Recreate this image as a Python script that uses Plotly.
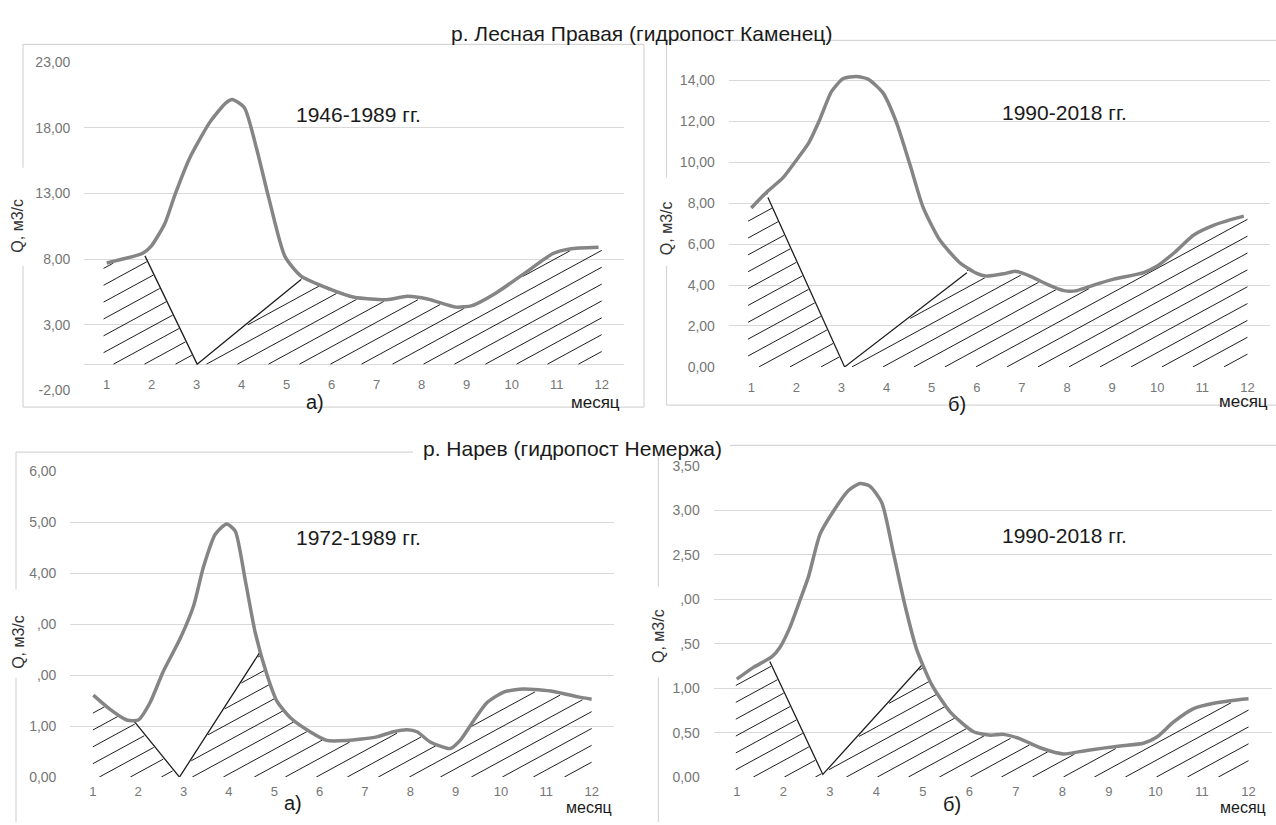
import numpy as np
import plotly.graph_objects as go

W, H = 1276, 825

# ---------------- data ----------------
months = list(range(1, 13))
month_labels = [str(m) for m in months]

# р. Лесная Правая, 1946-1989
tl_month = [1.00, 1.80, 1.98, 2.29, 2.52, 2.84, 3.29, 3.65, 3.79, 4.06, 4.33, 4.60, 4.96,
            5.32, 5.96, 6.50, 7.22, 7.68, 8.13, 8.76, 9.12, 9.67, 10.30, 10.93, 11.29, 11.93]
tl_q = [7.70, 8.44, 8.94, 10.68, 12.92, 15.66, 18.40, 19.89, 20.14, 19.52, 16.41, 12.67, 8.20,
        6.70, 5.71, 5.09, 4.91, 5.16, 4.96, 4.34, 4.46, 5.46, 6.95, 8.44, 8.77, 8.89]
tl_v_month = [1.85, 3.01, 5.32]
tl_v_q = [8.24, 0.0, 6.45]
tl_yticks = [-2, 3, 8, 13, 18, 23]
tl_yticktext = ["-2,00", "3,00", "8,00", "13,00", "18,00", "23,00"]

# р. Лесная Правая, 1990-2018
tr_month = [1.00, 1.33, 1.70, 1.95, 2.26, 2.52, 2.78, 3.04, 3.33, 3.59, 3.92, 4.22, 4.52, 4.81,
            5.18, 5.63, 6.00, 6.20, 6.59, 6.85, 7.18, 7.56, 7.93, 8.22, 8.59, 9.04, 9.70,
            10.00, 10.37, 10.81, 11.26, 11.63, 11.92]
tr_q = [7.77, 8.52, 9.24, 9.96, 10.90, 12.10, 13.47, 14.10, 14.20, 14.07, 13.40, 11.95, 9.88, 7.80,
        6.20, 5.08, 4.57, 4.44, 4.55, 4.68, 4.44, 4.04, 3.73, 3.73, 4.00, 4.29, 4.61,
        4.93, 5.57, 6.45, 6.93, 7.20, 7.37]
tr_v_month = [1.37, 3.07, 5.78]
tr_v_q = [8.28, 0.0, 4.60]
tr_yticks = [0, 2, 4, 6, 8, 10, 12, 14]
tr_yticktext = ["0,00", "2,00", "4,00", "6,00", "8,00", "10,00", "12,00", "14,00"]

# р. Нарев, 1972-1989
bl_month = [1.01, 1.38, 1.75, 2.00, 2.26, 2.55, 2.92, 3.22, 3.44, 3.70, 3.95, 4.14, 4.36, 4.58,
            4.84, 5.06, 5.35, 5.79, 6.16, 6.60, 7.26, 7.63, 7.93, 8.15, 8.44, 8.88, 9.10,
            9.40, 9.69, 10.06, 10.50, 11.16, 11.72, 12.00]
bl_q = [1.61, 1.33, 1.12, 1.12, 1.46, 2.07, 2.71, 3.36, 4.13, 4.77, 4.97, 4.83, 3.87, 2.84,
        2.01, 1.49, 1.17, 0.89, 0.72, 0.72, 0.79, 0.89, 0.93, 0.89, 0.69, 0.56, 0.72,
        1.11, 1.46, 1.67, 1.73, 1.68, 1.57, 1.53]
bl_v_month = [1.89, 2.91, 4.69]
bl_v_q = [1.12, 0.0, 2.46]
bl_yticks = [0, 1, 2, 3, 4, 5, 6]
bl_yticktext = ["0,00", "1,00", ",00", ",00", "4,00", "5,00", "6,00"]

# р. Нарев, 1990-2018
br_month = [1.00, 1.35, 1.75, 1.93, 2.14, 2.36, 2.54, 2.79, 3.08, 3.40, 3.65, 3.86, 4.12, 4.37,
            4.62, 4.87, 5.19, 5.59, 6.09, 6.45, 6.73, 7.09, 7.52, 8.02, 8.52, 9.24, 9.74,
            10.03, 10.39, 10.82, 11.25, 11.79, 12.00]
br_q = [1.10, 1.23, 1.35, 1.46, 1.68, 1.99, 2.25, 2.73, 2.99, 3.22, 3.30, 3.27, 3.08, 2.51,
        1.92, 1.43, 1.04, 0.73, 0.51, 0.47, 0.48, 0.43, 0.33, 0.26, 0.30, 0.35, 0.38,
        0.45, 0.62, 0.77, 0.83, 0.87, 0.88]
br_v_month = [1.71, 2.85, 4.98]
br_v_q = [1.30, 0.03, 1.26]
br_yticks = [0, 0.5, 1.0, 1.5, 2.0, 2.5, 3.0, 3.5]
br_yticktext = ["0,00", "0,50", "1,00", ",50", ",00", "2,50", "3,00", "3,50"]

# ---------------- geometry / style ----------------
FONT = "Liberation Sans, Arial, sans-serif"
GRID = "#d9d9d9"
CURVE = "#858585"
TICKC = "#767676"
HATCH_ANGLE = np.tan(np.radians(29))
HATCH_STEP = 31.0  # px along the baseline


def X(px):
    return px / W


def Y(py):
    return 1 - py / H


# plot-area boxes in pixels: x0, x1, py at ymin, py at ymax (range top), ymin, ymax
panels = {
    "tl": dict(x0=84.2, x1=624.2, pyb=390.0, pyt=55.0, ymin=-2, ymax=23, phase=1.15, xs=0.93),
    "tr": dict(x0=728.7, x1=1270.0, pyb=366.0, pyt=61.5, ymin=0, ymax=14.6, phase=3.92, xs=0.93),
    "bl": dict(x0=70.2, x1=614.3, pyb=784.3, pyt=472.7, ymin=0, ymax=6, phase=1.14, xs=1.0),
    "br": dict(x0=713.5, x1=1271.8, pyb=784.3, pyt=466.7, ymin=0, ymax=3.5, phase=1.355, xs=0.98),
}


def hatch_segments(month, q, vm, vq, g):
    sx = (g["x1"] - g["x0"]) / 12.0
    sy = (g["pyb"] - g["pyt"]) / (g["ymax"] - g["ymin"])
    r = HATCH_ANGLE * sx / sy
    dm = HATCH_STEP / sx
    ms = np.linspace(g["xs"], 12.0, 4000)
    curve = np.interp(ms, month, q)
    left = vq[1] + (vq[0] - vq[1]) * (vm[1] - ms) / (vm[1] - vm[0])
    right = vq[1] + (vq[2] - vq[1]) * (ms - vm[1]) / (vm[2] - vm[1])
    arm = np.where(ms <= vm[1], left, right)
    inside = (ms >= vm[0]) & (ms <= vm[2])
    upper = np.where(inside, np.minimum(arm, curve), curve) - 2.0 / sy
    qmax = max(q)
    start = g["phase"] - np.ceil((g["phase"] - (g["xs"] - qmax / r)) / dm) * dm
    xs_out, ys_out = [], []
    m0 = start
    while m0 <= 12.0:
        v = r * (ms - m0)
        mask = (v >= 0) & (v <= upper)
        if mask.any():
            d = np.diff(np.concatenate([[0], mask.astype(int), [0]]))
            starts = np.where(d == 1)[0]
            ends = np.where(d == -1)[0] - 1
            for s, e in zip(starts, ends):
                if e > s:
                    xs_out += [ms[s], ms[e], None]
                    ys_out += [v[s], v[e], None]
        m0 += dm
    return xs_out, ys_out


fig = go.Figure()

series = [
    ("tl", "x", "y", tl_month, tl_q, tl_v_month, tl_v_q),
    ("tr", "x2", "y2", tr_month, tr_q, tr_v_month, tr_v_q),
    ("bl", "x3", "y3", bl_month, bl_q, bl_v_month, bl_v_q),
    ("br", "x4", "y4", br_month, br_q, br_v_month, br_v_q),
]

for key, xa, ya, mth, q, vm, vq in series:
    hx, hy = hatch_segments(mth, q, vm, vq, panels[key])
    fig.add_trace(go.Scatter(x=hx, y=hy, mode="lines", xaxis=xa, yaxis=ya,
                             line=dict(color="#1e1e1e", width=1), hoverinfo="skip",
                             showlegend=False))
    fig.add_trace(go.Scatter(x=vm, y=vq, mode="lines", xaxis=xa, yaxis=ya,
                             line=dict(color="#1e1e1e", width=1.3), hoverinfo="skip",
                             showlegend=False))
    fig.add_trace(go.Scatter(x=mth, y=q, mode="lines", xaxis=xa, yaxis=ya,
                             line=dict(color=CURVE, width=3.5, shape="spline", smoothing=0.6),
                             showlegend=False))


def xaxis(g, anchor, position=None, ticklen=8):
    d = dict(domain=[X(g["x0"]), X(g["x1"])], range=[0.5, 12.5], tickvals=months,
             ticktext=month_labels, showgrid=False, zeroline=False, showline=False,
             ticks="outside", ticklen=ticklen, tickcolor="rgba(0,0,0,0)",
             tickfont=dict(family=FONT, size=13, color=TICKC), fixedrange=True)
    if position is None:
        d["anchor"] = anchor
    else:
        d["anchor"] = "free"
        d["position"] = position
    return d


def yaxis(g, anchor, tickvals, ticktext, zeroline=False):
    return dict(domain=[Y(g["pyb"]), Y(g["pyt"])], range=[g["ymin"], g["ymax"]],
                tickvals=tickvals, ticktext=ticktext, showgrid=True, gridcolor=GRID,
                gridwidth=1, zeroline=zeroline, zerolinecolor=GRID, zerolinewidth=1,
                showline=False, anchor=anchor, ticks="outside", ticklen=10,
                tickcolor="rgba(0,0,0,0)", fixedrange=True,
                tickfont=dict(family=FONT, size=14, color=TICKC))


tl = panels["tl"]
zero_py = tl["pyb"] - (0 - tl["ymin"]) * (tl["pyb"] - tl["pyt"]) / (tl["ymax"] - tl["ymin"])

fig.update_layout(
    width=W, height=H, autosize=False,
    margin=dict(l=0, r=0, t=0, b=0),
    paper_bgcolor="white", plot_bgcolor="white",
    xaxis=xaxis(tl, "y", position=Y(zero_py)),
    yaxis=yaxis(tl, "x", tl_yticks, tl_yticktext, zeroline=True),
    xaxis2=xaxis(panels["tr"], "y2"),
    yaxis2=yaxis(panels["tr"], "x2", tr_yticks, tr_yticktext),
    xaxis3=xaxis(panels["bl"], "y3", ticklen=2),
    yaxis3=yaxis(panels["bl"], "x3", bl_yticks, bl_yticktext),
    xaxis4=xaxis(panels["br"], "y4", ticklen=2),
    yaxis4=yaxis(panels["br"], "x4", br_yticks, br_yticktext),
)

# frames
FR = "#d6d6d6"
frame_lines = [
    (23, 37, 644, 37), (23, 37, 23, 163), (23, 263, 23, 407), (23, 407, 644, 407), (644, 37, 644, 407),
    (666.5, 33, 1280, 33), (666.5, 33, 666.5, 173), (666.5, 263, 666.5, 405), (666.5, 405, 1280, 405),
    (16, 453, 413, 453), (16, 453, 16, 593), (16, 683, 16, 830),
    (730, 446, 1280, 446), (658.4, 458, 658.4, 590), (658.4, 683, 658.4, 830),
]
for x0, y0, x1, y1 in frame_lines:
    fig.add_shape(type="line", xref="paper", yref="paper", x0=X(x0), y0=Y(y0), x1=X(x1), y1=Y(y1),
                  line=dict(color=FR, width=1.2), layer="below")


def txt(s, px, py, size, color="#1a1a1a", angle=0, pad=1):
    fig.add_annotation(text=s, x=X(px), y=Y(py), xref="paper", yref="paper", showarrow=False,
                       xanchor="center", yanchor="middle", textangle=angle, borderpad=pad,
                       font=dict(family=FONT, size=size, color=color))


txt("р. Лесная Правая (гидропост Каменец)", 641, 26, 21)
txt("р. Нарев (гидропост Немержа)", 572, 449, 21)

txt("1946-1989 гг.", 358, 109, 21)
txt("1990-2018 гг.", 1064, 107, 21)
txt("1972-1989 гг.", 358, 540, 21)
txt("1990-2018 гг.", 1064, 538, 21)

txt("а)", 315, 402, 20)
txt("б)", 957, 404, 20)
txt("а)", 293, 811, 20)
txt("б)", 952, 812, 20)

for px, py, sz in [(595, 402, 17), (1243, 401, 17), (589, 815, 16), (1243, 815, 16)]:
    txt("месяц", px, py, sz, pad=0)

for px, py in [(18, 222), (666.5, 225), (18.4, 646), (658.4, 640)]:
    txt("Q, м3/с", px, py, 16, color="#333333", angle=-90)

fig.write_html("out.html", config={"displayModeBar": False},
               post_script="document.body.style.margin='0px';document.body.style.overflow='hidden';")
